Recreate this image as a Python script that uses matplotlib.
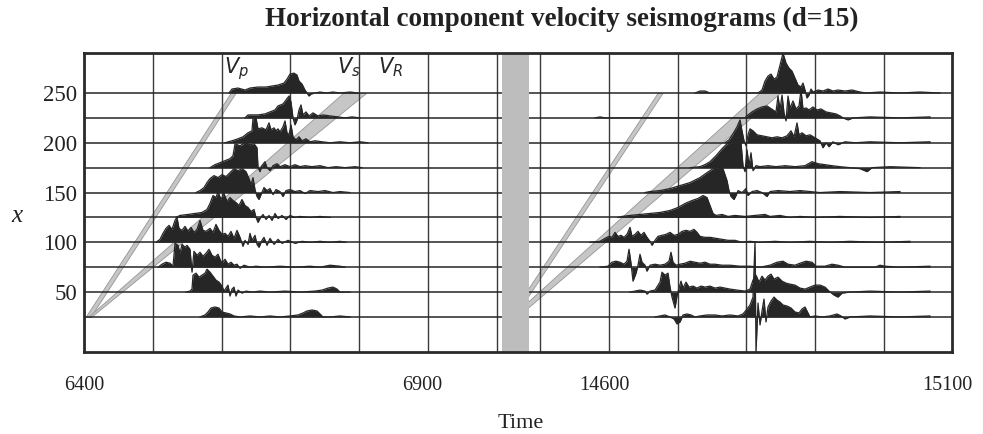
import matplotlib
matplotlib.use("Agg")
import matplotlib.pyplot as plt
import numpy as np

plt.rcParams['font.family'] = ['Liberation Serif', 'DejaVu Serif']
plt.rcParams['mathtext.fontset'] = 'dejavusans'

# ---------------- data ----------------
distances = [25, 50, 75, 100, 125, 150, 175, 200, 225, 250]
ytick_vals = [50, 100, 150, 200, 250]

# time axis (sample index); labels as printed on the figure
time_tick_pos = [0, 338, 520, 863]
time_tick_labels = ["6400", "6900", "14600", "15100"]

# left time window traces: time samples and amplitudes
L250_t = [145,148,154,161,166,174,182,188,194,200,203,206,210,213,215,218,221,223,225,227,231,236,242,249,256,266,274]
L250_a = [0,4,5,3,5,6,6,7,8,10,14,19,20,18,12,9,3,0,-3,-1,0,1,0,1,0,1,0]
L225_t = [161,164,174,181,186,191,194,199,202,205,207,209,211,213,215,217,219,222,225,229,234,239,246,254,261,268,276]
L225_a = [0,3,3,4,6,8,12,14,18,22,16,0,-7,-2,8,13,3,6,2,5,2,3,2,1,0,1,0]
L200_t = [141,148,154,159,164,168,169,172,174,178,182,185,187,190,192,194,196,199,201,203,205,207,209,212,215,218,222,226,231,238,246,256,266,276,284]
L200_a = [0,2,4,6,10,12,25,25,14,15,13,20,13,15,12,14,11,16,22,10,8,18,6,3,6,2,4,1,2,1,0,1,0,1,0]
L175_t = [126,131,136,141,146,149,151,156,161,166,170,173,174,176,178,181,183,186,189,193,196,201,206,211,216,221,228,236,244,252,261,271,278]
L175_a = [0,3,5,7,9,12,24,22,25,23,24,20,0,-4,2,6,0,-3,2,4,1,3,1,3,1,2,1,2,0,1,0,1,0]
L150_t = [112,116,120,123,126,130,134,138,142,146,150,154,158,162,165,167,169,171,173,175,177,180,183,186,189,192,196,199,202,206,211,216,221,226,234,241,249,256,266]
L150_a = [0,2,5,10,14,17,15,18,16,20,24,22,24,21,14,8,15,3,-4,-7,-2,5,2,4,-2,3,1,-4,2,3,1,2,-1,2,1,2,0,1,0]
L125_t = [92,96,104,111,118,123,126,129,132,134,137,140,143,146,149,152,155,158,161,164,167,170,172,174,176,179,182,185,188,191,194,198,202,206,211,216,226,236,246]
L125_a = [0,2,3,4,5,8,14,22,20,26,18,24,16,20,17,15,12,18,12,10,6,8,0,-5,-1,3,-2,2,-3,4,-1,2,-2,2,0,1,0,1,0]
L100_t = [72,76,79,82,85,88,91,93,95,98,101,104,107,110,113,116,119,122,126,129,132,135,138,141,144,147,150,153,156,159,161,164,166,168,171,173,175,178,180,183,186,190,194,198,204,211,218,226,236,246,256,262]
L100_a = [0,3,9,14,17,13,22,25,14,12,16,11,15,10,13,22,12,11,14,10,18,12,8,9,6,11,4,12,5,-4,2,-2,9,2,7,-2,-5,2,5,-3,4,-2,3,-1,2,-1,1,0,1,0,1,0]
L75_t = [74,78,82,86,89,91,94,96,98,101,103,106,108,110,113,116,119,122,125,128,131,134,136,138,141,144,147,150,153,156,160,166,172,181,196,211,226,236,246,256,261]
L75_a = [0,3,5,4,1,24,22,14,23,20,22,18,-5,16,12,15,11,14,18,12,10,13,8,4,8,3,5,2,3,-1,2,0,1,0,1,0,1,0,2,1,0]
L50_t = [102,106,108,109,112,115,118,121,123,126,129,132,135,138,140,142,144,146,148,150,152,154,158,162,168,176,186,201,216,231,238,244,249,253,256,266]
L50_a = [0,1,3,17,19,15,17,19,23,20,16,12,10,6,1,4,7,-4,3,5,-4,2,-1,1,0,1,0,1,0,1,2,4,5,3,0,0]
L25_t = [116,121,124,127,131,135,138,142,146,150,156,166,176,186,196,206,214,219,223,228,233,236,239,246,256,266]
L25_a = [0,2,5,9,10,9,5,4,3,1,0,1,0,1,0,1,2,4,6,7,6,3,0,0,1,0]

# right time window traces
R250_t = [611,616,621,626,674,678,681,684,687,690,693,696,699,702,705,708,711,714,717,719,721,723,725,727,729,734,739,744,749,754,761,768,776,782,796,816,836,856]
R250_a = [0,2,2,0,0,3,12,17,19,14,16,28,40,30,25,22,15,8,6,10,3,-5,-2,4,1,3,2,4,2,3,2,3,1,0,1,0,1,0]
R225_t = [511,516,521,661,664,668,673,678,683,686,689,692,694,696,698,700,702,704,706,709,712,715,717,719,722,725,729,733,737,742,747,752,756,759,764,769,786,816,846]
R225_a = [0,1,0,0,3,6,9,11,12,10,8,6,22,8,23,5,-3,22,10,17,9,12,28,9,10,8,11,8,9,6,5,4,2,0,-2,0,1,0,1]
R200_t = [641,645,649,653,656,658,660,662,664,666,669,673,678,683,688,693,698,703,707,710,713,715,718,722,726,731,736,739,742,745,749,754,761,771,786,816,846]
R200_a = [0,3,9,16,23,12,2,-3,8,14,12,8,7,6,5,6,5,7,12,6,20,8,10,7,8,5,2,-5,0,-4,1,-2,1,0,1,0,1]
R175_t = [606,616,621,626,632,638,643,649,654,657,659,661,663,665,667,669,672,676,684,692,701,711,721,728,734,741,748,756,766,776,783,788,806,836]
R175_a = [0,1,3,6,12,19,24,25,26,25,2,-4,18,2,15,-3,2,1,2,1,2,1,2,6,4,3,2,1,0,-1,-4,0,1,0]
R150_t = [561,566,576,586,596,606,616,623,629,634,639,643,645,647,650,652,654,658,662,664,668,673,678,683,686,694,706,716,726,736,756,786,816]
R150_a = [0,1,2,4,7,10,15,20,24,25,24,12,2,-4,-7,-3,2,0,4,-3,1,2,0,-4,1,2,1,2,1,0,1,0,1]
R125_t = [534,538,546,556,566,576,586,594,601,608,614,619,623,626,629,632,638,644,651,661,671,681,686,696,706,716,731,756,786,816]
R125_a = [0,1,2,3,4,5,7,10,14,17,19,22,20,12,4,2,3,1,2,1,2,3,1,2,0,1,0,1,0,1]
R100_t = [506,516,521,525,528,531,534,537,540,543,546,548,551,554,557,560,563,566,568,571,574,578,582,586,590,594,598,602,606,610,613,616,621,626,632,638,644,651,658,666,676,691,706,726,746,766,796,826]
R100_a = [0,1,4,6,5,10,6,7,5,8,15,6,8,11,7,10,5,1,-3,2,6,7,8,10,7,8,11,12,11,13,10,6,5,5,4,3,2,2,0,1,0,1,0,1,0,1,0,1]
R75_t = [516,524,528,532,536,540,543,545,547,549,552,554,556,558,561,563,566,571,576,581,585,587,589,592,596,601,606,611,616,621,626,631,638,646,656,666,676,686,693,699,704,711,716,722,728,732,741,748,754,761,776,791,796,801,816,846]
R75_a = [0,1,5,6,5,3,6,18,4,-14,-6,2,13,5,2,-4,2,3,2,3,6,15,5,2,3,4,6,5,4,5,3,3,2,2,1,1,0,2,5,6,3,2,4,6,5,1,1,3,2,0,0,0,2,1,0,1]
R50_t = [546,551,556,561,563,566,571,576,578,581,584,586,588,591,593,595,597,599,602,605,609,613,617,621,626,631,636,641,646,653,661,666,669,672,675,678,681,684,687,690,694,698,702,706,711,716,721,726,731,736,741,745,750,754,758,766,786,816,846]
R50_a = [0,1,2,1,-2,1,2,10,20,17,19,5,-5,-16,-4,4,11,4,10,5,6,4,6,5,6,4,5,4,3,2,1,3,12,17,10,16,12,16,18,13,15,11,9,8,7,4,3,5,7,7,5,1,-3,-5,-1,0,1,0,1]
R25_t = [571,576,581,586,590,593,596,599,603,607,611,616,623,631,638,646,654,659,663,666,669,671,672,674,676,678,680,682,684,687,690,693,696,699,703,707,711,715,718,721,723,726,731,738,746,753,757,761,766,786,816,846]
R25_a = [0,1,2,0,-2,-7,-5,2,3,2,0,1,2,2,1,2,1,3,8,12,20,75,-36,14,-8,6,18,-5,10,16,20,17,15,12,11,9,5,4,8,10,6,0,1,0,1,3,1,-2,0,1,0,1]

# arrival lines: time at distance 25 and 250
band_x = [25, 250]
vp_left = [4, 149]
vs_left = [4, 259]
vr_left = [7, 282]
vp_right = [428, 576]
vs_right = [427, 675]
vr_right = [433, 696]

# ---------------- layout ----------------
T_MAX = 868
DIV = 68.8
panel_starts = [0, 456]
gap_span = (418, 445)

traces = {
    25: [(L25_t, L25_a), (R25_t, R25_a)],
    50: [(L50_t, L50_a), (R50_t, R50_a)],
    75: [(L75_t, L75_a), (R75_t, R75_a)],
    100: [(L100_t, L100_a), (R100_t, R100_a)],
    125: [(L125_t, L125_a), (R125_t, R125_a)],
    150: [(L150_t, L150_a), (R150_t, R150_a)],
    175: [(L175_t, L175_a), (R175_t, R175_a)],
    200: [(L200_t, L200_a), (R200_t, R200_a)],
    225: [(L225_t, L225_a), (R225_t, R225_a)],
    250: [(L250_t, L250_a), (R250_t, R250_a)],
}

fig = plt.figure(figsize=(9.83, 4.34), dpi=100)
ax = fig.add_axes([84/983, 1-352/434, (952-84)/983, (352-53)/434])
ax.set_xlim(0, T_MAX)
ax.set_ylim(-10.2, 290.2)

ink = '#262626'
band_face = '#c6c6c6'
band_edge = '#969696'

# vertical grid
for start in panel_starts:
    for k in range(7):
        ax.axvline(start + k*DIV, color='#3a3a3a', lw=1.0, zorder=1.5)

# velocity bands
bx = np.array(band_x, dtype=float)
for vp in (vp_left, vp_right):
    v = np.array(vp, dtype=float)
    ax.fill_betweenx(bx, v-2.5, v+2.5, facecolor=band_face, edgecolor=band_edge, lw=0.6, zorder=1)
for vs, vr in ((vs_left, vr_left), (vs_right, vr_right)):
    ax.fill_betweenx(bx, np.array(vs, float), np.array(vr, float), facecolor=band_face,
                     edgecolor=band_edge, lw=0.6, zorder=1)

# traces
for d in distances:
    ax.axhline(d, color=ink, lw=1.1, zorder=2)
    for t, a in traces[d]:
        t = np.array(t, float)
        y = d + np.array(a, float)
        ax.fill_between(t, d, y, color=ink, lw=0, zorder=3)
        ax.plot(t, y, color=ink, lw=0.9, zorder=3)

# gap bar
ax.axvspan(*gap_span, facecolor='#bdbdbd', edgecolor='none', zorder=4)

# labels on bands
ax.text(140, 288, r'$V_p$', fontsize=15, va='top', ha='left', color=ink, zorder=6)
ax.text(253, 288, r'$V_s$', fontsize=15, va='top', ha='left', color=ink, zorder=6)
ax.text(294, 288, r'$V_R$', fontsize=15, va='top', ha='left', color=ink, zorder=6)

for sp in ax.spines.values():
    sp.set_linewidth(2.0)
    sp.set_color('#2a2a2a')
    sp.set_zorder(6)

ax.set_yticks(ytick_vals)
ax.set_yticklabels([str(v) for v in ytick_vals])
ax.set_xticks(time_tick_pos)
ax.set_xticklabels(time_tick_labels)
ax.tick_params(axis='both', length=0, colors='#222222')
ax.tick_params(axis='x', labelsize=14.5, pad=17)
ax.tick_params(axis='y', labelsize=16.5, pad=5)

fig.text(562/983, 1-19/434, 'Horizontal component velocity seismograms (d=15)',
         ha='center', va='center', fontsize=19.5, fontweight='bold', color='#222222')
fig.text(17/983, 1-216/434, 'x', ha='center', va='center', fontsize=18, style='italic', color='#222222')
fig.text(521/983, 1-423/434, 'Time', ha='center', va='center', fontsize=16, color='#222222')

fig.savefig('out.png', dpi=100)
